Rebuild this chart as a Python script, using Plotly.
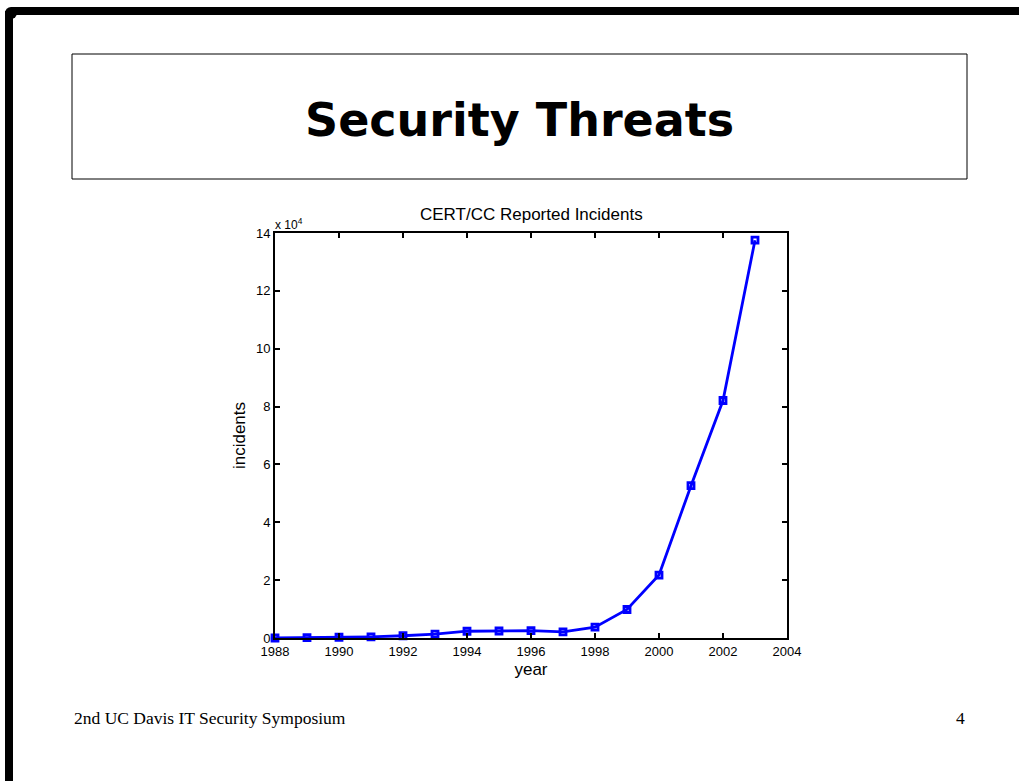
import plotly.graph_objects as go

years = list(range(1988, 2004))
incidents = [6, 132, 252, 406, 773, 1334, 2340, 2412, 2573, 2134, 3734,
             9859, 21756, 52658, 82094, 137529]

x_ticks = list(range(1988, 2005, 2))
y_tick_vals = [0, 20000, 40000, 60000, 80000, 100000, 120000, 140000]
y_tick_text = ["0", "2", "4", "6", "8", "10", "12", "14"]

W, H = 1019, 781
L, R, T, B = 275, 787, 233, 638  # plot area in pixels


def px(x):
    return (x - L) / (R - L)


def py(y):
    return (B - y) / (B - T)


fig = go.Figure()
fig.add_trace(go.Scatter(
    x=years, y=incidents, mode="lines+markers",
    line=dict(color="#0000ff", width=2.8),
    marker=dict(symbol="square-open", size=6, color="#0000ff",
                line=dict(color="#0000ff", width=2.8)),
    showlegend=False, cliponaxis=False,
))

axis_common = dict(
    showline=True, linecolor="black", linewidth=2, mirror="allticks",
    ticks="inside", ticklen=5, tickwidth=2, tickcolor="black",
    showgrid=False, zeroline=False,
    tickfont=dict(family="Liberation Sans, Arial", size=13, color="black"),
)

fig.update_layout(
    width=W, height=H,
    margin=dict(l=L, r=W - R, t=T, b=H - B),
    paper_bgcolor="white", plot_bgcolor="white",
    xaxis=dict(range=[1988, 2004], tickvals=x_ticks, title=dict(
        text="year", font=dict(family="Liberation Sans, Arial", size=17, color="black"),
        standoff=6), **axis_common),
    yaxis=dict(range=[0, 140000], tickvals=y_tick_vals, ticktext=y_tick_text,
               title=dict(text="incidents", font=dict(family="Liberation Sans, Arial",
                                                        size=17, color="black"),
                          standoff=6), **axis_common),
)

shapes = []
# black slide frame (top and left bars with rounded corner)
shapes.append(dict(type="rect", xref="paper", yref="paper",
                   x0=px(11), x1=px(W + 5), y0=py(15), y1=py(7),
                   fillcolor="black", line=dict(width=0), layer="above"))
shapes.append(dict(type="rect", xref="paper", yref="paper",
                   x0=px(5), x1=px(13), y0=py(H + 5), y1=py(11),
                   fillcolor="black", line=dict(width=0), layer="above"))
shapes.append(dict(type="circle", xref="paper", yref="paper",
                   x0=px(5), x1=px(17), y0=py(19), y1=py(7),
                   fillcolor="black", line=dict(width=0), layer="above"))
# title box
shapes.append(dict(type="rect", xref="paper", yref="paper",
                   x0=px(72), x1=px(967), y0=py(179), y1=py(54),
                   fillcolor="rgba(0,0,0,0)", line=dict(color="black", width=1)))
fig.update_layout(shapes=shapes)

annotations = [
    dict(text="<b>Security Threats</b>", x=px(519), y=py(120), xref="paper", yref="paper",
         showarrow=False, xanchor="center", yanchor="middle",
         font=dict(family="DejaVu Sans", size=46, color="black")),
    dict(text="CERT/CC Reported Incidents", x=px(531), y=py(214), xref="paper", yref="paper",
         showarrow=False, xanchor="center", yanchor="middle",
         font=dict(family="Liberation Sans, Arial", size=17, color="black")),
    dict(text="x 10<sup>4</sup>", x=px(273), y=py(224), xref="paper", yref="paper",
         showarrow=False, xanchor="left", yanchor="middle",
         font=dict(family="Liberation Sans, Arial", size=12, color="black")),
    dict(text="2nd UC Davis IT Security Symposium", x=px(72), y=py(718), xref="paper",
         yref="paper", showarrow=False, xanchor="left", yanchor="middle",
         font=dict(family="Liberation Serif, Times New Roman", size=17.5, color="black")),
    dict(text="4", x=px(967), y=py(718), xref="paper", yref="paper",
         showarrow=False, xanchor="right", yanchor="middle",
         font=dict(family="Liberation Serif, Times New Roman", size=17.5, color="black")),
]
fig.update_layout(annotations=annotations)

fig.write_html("out.html", config={"displayModeBar": False},
               post_script="document.body.style.margin='0';document.body.style.overflow='hidden';")
